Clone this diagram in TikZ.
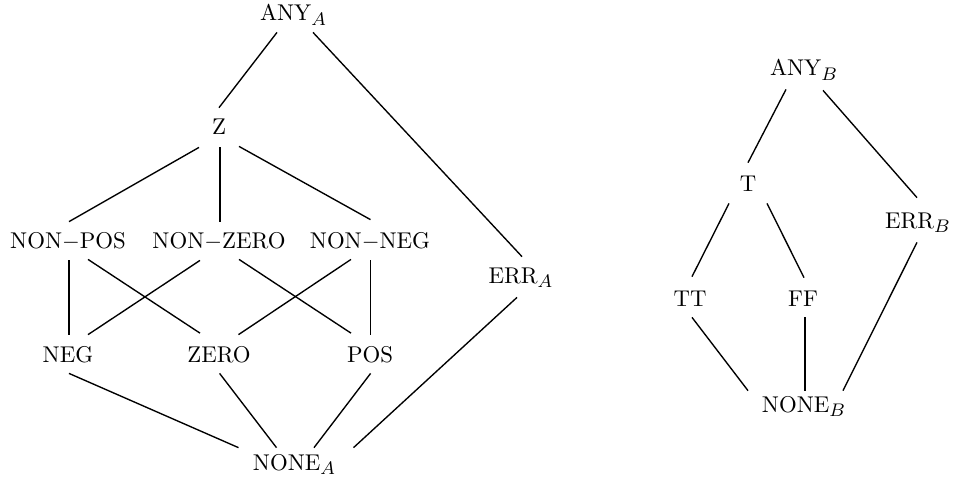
\documentclass[tikz,border=0pt]{standalone}
\DeclareMathSizes{10}{10}{8}{6}
\begin{document}
\begin{tikzpicture}[x=0.4386pt,y=-0.4386pt,
  elem/.style={anchor=base,inner sep=0pt,text height=11.8pt,text depth=4.8pt},
  cover/.style={line width=0.6pt,black}]
\useasboundingbox (0,0) rectangle (953,480);

% lattice A
\node[elem] (ANYA)    at (293.5,21)  {ANY$_A$};
\node[elem] (Z)       at (219,135)   {Z};
\node[elem] (NONPOS)  at (68,248)    {NON$-$POS};
\node[elem] (NONZERO) at (219,248)   {NON$-$ZERO};
\node[elem] (NONNEG)  at (370,248)   {NON$-$NEG};
\node[elem] (ERRA)    at (521,283)   {ERR$_A$};
\node[elem] (NEG)     at (68,362)    {NEG};
\node[elem] (ZERO)    at (219,362)   {ZERO};
\node[elem] (POS)     at (370,362)   {POS};
\node[elem] (NONEA)   at (294.5,470) {NONE$_A$};

% lattice B
\node[elem] (ANYB)  at (804,76)  {ANY$_B$};
\node[elem] (T)     at (748,191) {T};
\node[elem] (ERRB)  at (918,228) {ERR$_B$};
\node[elem] (TT)    at (690,306) {TT};
\node[elem] (FF)    at (803,306) {FF};
\node[elem] (NONEB) at (804,412) {NONE$_B$};

% covering relations of lattice A
\draw[cover] ([shift={(-16.5,0)}]ANYA.south) -- (Z.north);
\draw[cover] ([shift={(19.5,0)}]ANYA.south) -- ([shift={(1,1)}]ERRA.north);
\draw[cover] ([shift={(-20,1)}]Z.south) -- ([shift={(1,1)}]NONPOS.north);
\draw[cover] ([shift={(1,1)}]Z.south) -- ([shift={(1,1)}]NONZERO.north);
\draw[cover] ([shift={(20,0)}]Z.south) -- ([shift={(0.5,-1)}]NONNEG.north);
\draw[cover] ([shift={(1,1)}]NONPOS.south) -- ([shift={(1,0)}]NEG.north);
\draw[cover] ([shift={(20,0)}]NONPOS.south) -- ([shift={(-19,-1.5)}]ZERO.north);
\draw[cover] ([shift={(-19,1)}]NONZERO.south) -- ([shift={(20,0)}]NEG.north);
\draw[cover] ([shift={(20,0)}]NONZERO.south) -- ([shift={(-19,-1.5)}]POS.north);
\draw[cover] ([shift={(-19,0)}]NONNEG.south) -- ([shift={(19.5,0)}]ZERO.north);
\draw[cover] ([shift={(0.6,1)}]NONNEG.south) -- ([shift={(0.6,0)}]POS.north);
\draw[cover] ([shift={(1,0)}]NEG.south) -- ([shift={(-56,5)}]NONEA.north);
\draw[cover] ([shift={(0.6,0)}]ZERO.south) -- ([shift={(-18,5)}]NONEA.north);
\draw[cover] ([shift={(0.6,0)}]POS.south) -- ([shift={(19.5,5)}]NONEA.north);
\draw[cover] ([shift={(-4,3)}]ERRA.south) -- ([shift={(59,5)}]NONEA.north);

% covering relations of lattice B
\draw[cover] ([shift={(-18,2)}]ANYB.south) -- ([shift={(0,-1)}]T.north);
\draw[cover] ([shift={(19,3)}]ANYB.south) -- ([shift={(-1,-3)}]ERRB.north);
\draw[cover] ([shift={(-19,1)}]T.south) -- ([shift={(2,-2)}]TT.north);
\draw[cover] ([shift={(19,1)}]T.south) -- ([shift={(1,-1)}]FF.north);
\draw[cover] ([shift={(2,0)}]TT.south) -- ([shift={(-56,6)}]NONEB.north);
\draw[cover] ([shift={(2,0)}]FF.south) -- ([shift={(1,6)}]NONEB.north);
\draw[cover] ([shift={(-1,3)}]ERRB.south) -- ([shift={(39,6)}]NONEB.north);
\end{tikzpicture}
\end{document}
